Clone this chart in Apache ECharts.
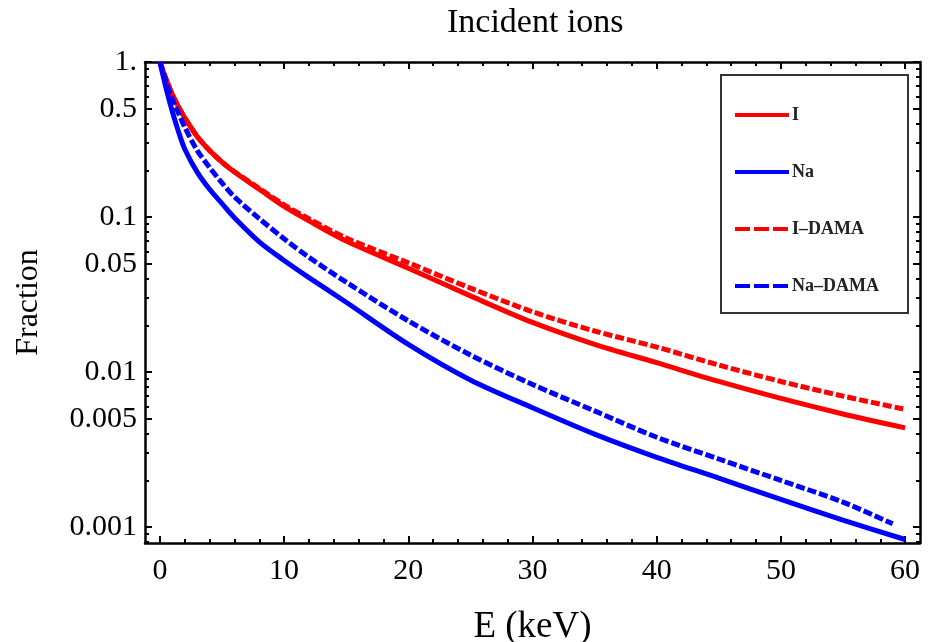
<!DOCTYPE html>
<html><head><meta charset="utf-8">
<script src="https://cdn.jsdelivr.net/npm/echarts@6/dist/echarts.min.js"></script>
<style>html,body{margin:0;padding:0;background:#fff}#c{width:930px;height:642px}</style>
</head><body><div id="c"></div>
<script>
// ---- data ----
const energy = [0,0.5,1,1.5,2,3,4,5,6,8,10,12,15,20,25,30,35,40,45,50,55,60];
const fracI = [1,0.776,0.617,0.513,0.437,0.331,0.269,0.226,0.195,0.151,0.117,0.0944,0.070,0.0468,0.031,0.0209,0.0151,0.0115,0.0087,0.00676,0.00537,0.00437];
const fracNa = [1,0.676,0.479,0.355,0.275,0.195,0.151,0.122,0.0989,0.0692,0.0525,0.0407,0.0282,0.0151,0.0089,0.00589,0.00398,0.00282,0.00207,0.00151,0.00111,0.000832];
const fracIDAMA = [1,0.776,0.617,0.513,0.437,0.331,0.269,0.226,0.196,0.153,0.120,0.0975,0.0733,0.0507,0.0348,0.0245,0.0184,0.0145,0.0111,0.0087,0.0070,0.00575];
const energyNaDAMA = [0,0.5,1,1.5,2,3,4,5,6,8,10,12,15,20,25,30,35,40,45,50,55,59];
const fracNaDAMA = [1,0.741,0.575,0.468,0.380,0.269,0.209,0.166,0.135,0.0977,0.0724,0.055,0.038,0.0214,0.0129,0.00832,0.00562,0.0038,0.00275,0.0020,0.00145,0.00105];
const seriesNames = ['I','Na','I\u2013DAMA','Na\u2013DAMA'];
const xMajorTicks = [0,10,20,30,40,50,60];
const xMinorTicks = [2,4,6,8,12,14,16,18,22,24,26,28,32,34,36,38,42,44,46,48,52,54,56,58];
const yMajorTicks = [1,0.5,0.1,0.05,0.01,0.005,0.001];
const yTickLabels = ['1.','0.5','0.1','0.05','0.01','0.005','0.001'];
const yMinorTicks = [0.9,0.8,0.7,0.6,0.4,0.3,0.2,0.09,0.08,0.07,0.06,0.04,0.03,0.02,0.009,0.008,0.007,0.006,0.004,0.003,0.002,0.0009,0.0008];
const xRange = [-1.2, 61.2];
const yRange = [0.00079, 1];

// ---- chart ----
const L = Math.log10;
const FONT = 'Liberation Serif';
const yMin = L(yRange[0]), yMax = L(yRange[1]);
function pts(xs, ys){ return xs.map((x,i)=>[x, L(ys[i])]); }
function yLabel(v){
  let best = 0, d = 1e9;
  yMajorTicks.forEach((t,i)=>{ const dd = Math.abs(L(t)-v); if (dd < d){ d = dd; best = i; } });
  return yTickLabels[best];
}
const frameLine = {show:true, onZero:false, lineStyle:{color:'#000', width:2.5}};
function xAx(pos, ticks, len, w, withLabels, line){
  return {
    type:'value', position:pos, min:xRange[0], max:xRange[1],
    axisLine: line ? frameLine : {show:false, onZero:false},
    splitLine:{show:false},
    axisTick:{show:true, inside:true, length:len, customValues:ticks, lineStyle:{color:'#000', width:w}},
    axisLabel: withLabels ? {show:true, customValues:ticks, margin:13, fontFamily:FONT, fontSize:30, color:'#000'} : {show:false},
    name: withLabels ? 'E (keV)' : '', nameLocation:'middle', nameGap:66,
    nameTextStyle:{fontFamily:FONT, fontSize:37, color:'#000'}
  };
}
function yAx(pos, ticks, len, w, withLabels, line){
  const tv = ticks.map(L);
  return {
    type:'value', position:pos, min:yMin, max:yMax,
    axisLine: line ? frameLine : {show:false, onZero:false},
    splitLine:{show:false},
    axisTick:{show:true, inside:true, length:len, customValues:tv, lineStyle:{color:'#000', width:w}},
    axisLabel: withLabels ? {show:true, customValues:tv, margin:8, fontFamily:FONT, fontSize:30, color:'#000', formatter:yLabel} : {show:false},
    name: withLabels ? 'Fraction' : '', nameLocation:'middle', nameGap:100, nameRotate:90,
    nameTextStyle:{fontFamily:FONT, fontSize:32, color:'#000'}
  };
}
const chart = echarts.init(document.getElementById('c'), null, {renderer:'canvas'});
const dash = [9,3];
const legendDash = {width:4, type:[15,4]};
chart.setOption({
  backgroundColor:'#fff',
  animation:false,
  title:{text:'Incident ions', left:447, top:6, padding:0,
    textStyle:{fontFamily:FONT, fontSize:34, fontWeight:'normal', color:'#000'}},
  grid:{left:145, right:10, top:62, bottom:99, containLabel:false, outerBoundsMode:'none'},
  legend:{
    orient:'vertical', left:721, top:75, padding:[30,29,17,12], itemGap:37,
    itemWidth:54, itemHeight:20, borderColor:'#333', borderWidth:2, backgroundColor:'#fff',
    itemStyle:{opacity:0},
    lineStyle:{width:4},
    textStyle:{fontFamily:FONT, fontSize:18, fontWeight:'bold', color:'#222', lineHeight:20, padding:[0,0,0,-2]},
    data:[
      {name:seriesNames[0]},
      {name:seriesNames[1]},
      {name:seriesNames[2], lineStyle:legendDash},
      {name:seriesNames[3], lineStyle:legendDash}
    ]
  },
  xAxis:[
    xAx('bottom', xMajorTicks, 7, 2, true, true),
    xAx('bottom', xMinorTicks, 4, 2, false, false),
    xAx('top', xMajorTicks, 7, 2, false, true),
    xAx('top', xMinorTicks, 4, 2, false, false)
  ],
  yAxis:[
    yAx('left', yMajorTicks, 7, 2, true, true),
    yAx('left', yMinorTicks, 4, 2, false, false),
    yAx('right', yMajorTicks, 7, 2, false, true),
    yAx('right', yMinorTicks, 4, 2, false, false)
  ],
  series:[
    {name:seriesNames[0], type:'line', data:pts(energy, fracI), showSymbol:false, symbol:'none', smooth:0.3,
      lineStyle:{color:'#ff0000', width:5}, itemStyle:{color:'#ff0000'}, z:2},
    {name:seriesNames[2], type:'line', data:pts(energy, fracIDAMA), showSymbol:false, symbol:'none', smooth:0.3,
      lineStyle:{color:'#ff0000', width:5, type:dash}, itemStyle:{color:'#ff0000'}, z:3},
    {name:seriesNames[1], type:'line', data:pts(energy, fracNa), showSymbol:false, symbol:'none', smooth:0.3,
      lineStyle:{color:'#0000ff', width:5}, itemStyle:{color:'#0000ff'}, z:4},
    {name:seriesNames[3], type:'line', data:pts(energyNaDAMA, fracNaDAMA), showSymbol:false, symbol:'none', smooth:0.3,
      lineStyle:{color:'#0000ff', width:5, type:dash}, itemStyle:{color:'#0000ff'}, z:5}
  ]
});
</script></body></html>
